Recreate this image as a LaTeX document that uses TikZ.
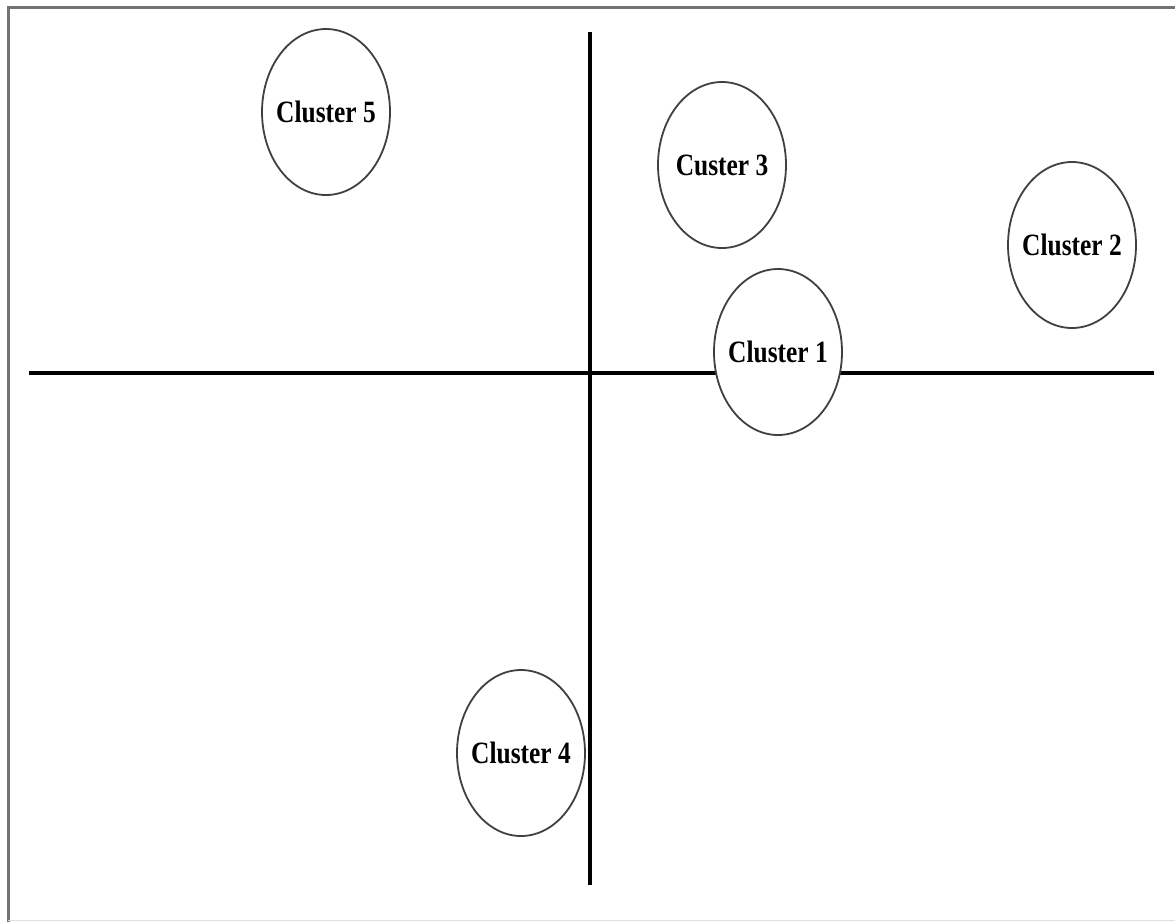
\documentclass[tikz,border=0pt]{standalone}
\usepackage{fontspec}
\usepackage{graphicx}
\setmainfont{Liberation Serif}
\usetikzlibrary{shapes.geometric}
\newcommand{\clab}[1]{\makebox[0pt]{\scalebox{0.82}[1]{#1}}}
\begin{document}
\begin{tikzpicture}[x=1pt,y=-1pt,
  cluster/.style={ellipse, draw=black!75, line width=1.8pt, fill=white, inner sep=0pt,
    minimum width=128pt, minimum height=166pt,
    font=\fontsize{31}{36}\selectfont\bfseries},
  axisline/.style={line width=3.5pt, black},
  frameline/.style={line width=3pt, black!55}]
\useasboundingbox (0,0) rectangle (1175,922);
\fill[white] (0,0) rectangle (1175,922);
% frame
\draw[frameline] (8,922) -- (8,7) -- (1175,7);
\draw[black!12, line width=1.5pt] (8,920.5) -- (1175,920.5);
% axes
\coordinate (hl) at (29,373);
\coordinate (hr) at (1154,373);
\coordinate (vt) at (590,32);
\coordinate (vb) at (590,885);
\draw[axisline] (hl) -- (hr);
\draw[axisline] (vt) -- (vb);
% clusters
\node[cluster] (c5) at (326,112) {\clab{Cluster 5}};
\node[cluster] (c3) at (722,165) {\clab{Custer 3}};
\node[cluster] (c2) at (1072,245) {\clab{Cluster 2}};
\node[cluster] (c1) at (778,352) {\clab{Cluster 1}};
\node[cluster] (c4) at (521,753) {\clab{Cluster 4}};
\end{tikzpicture}
\end{document}
